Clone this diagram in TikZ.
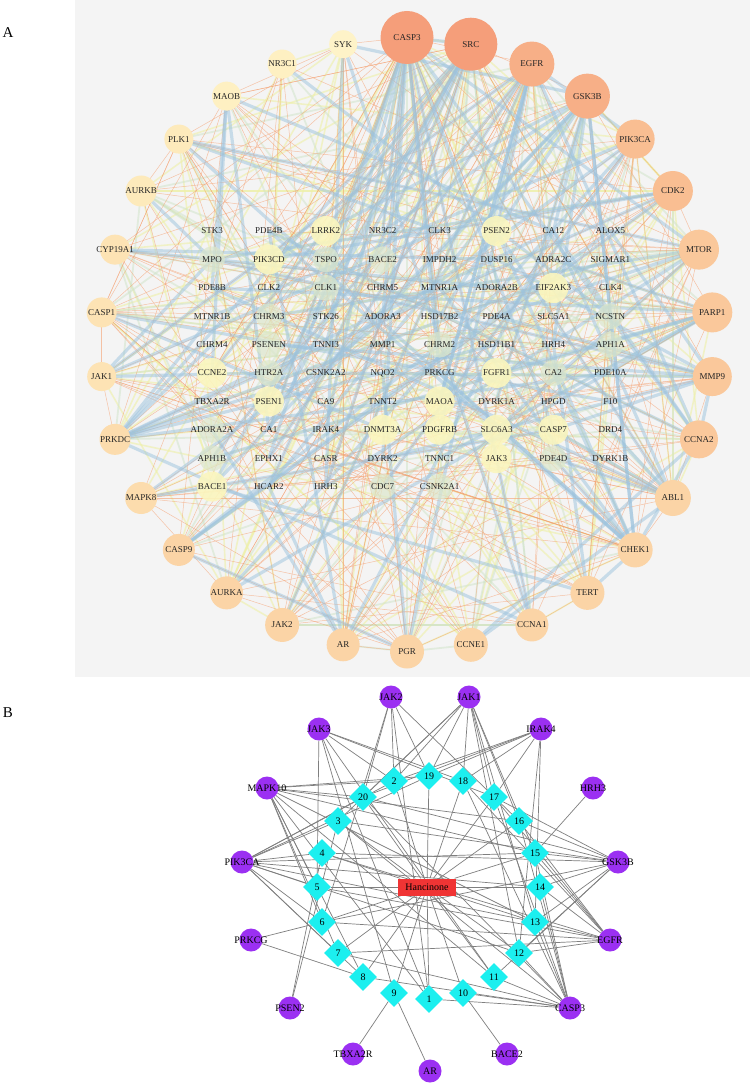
\documentclass[tikz,border=0pt]{standalone}
\usepackage{fontspec}
\setmainfont{Liberation Serif}
\usetikzlibrary{shapes.geometric}
\pgfdeclarelayer{bg}
\pgfdeclarelayer{edges}
\pgfsetlayers{bg,edges,main}
\definecolor{panelgrey}{HTML}{F4F4F4}
\definecolor{oa}{HTML}{F59E7A}
\definecolor{ob}{HTML}{F7AF87}
\definecolor{oc}{HTML}{F9BE92}
\definecolor{od}{HTML}{FAC89B}
\definecolor{oe}{HTML}{FBD4A6}
\definecolor{of}{HTML}{FCDCAD}
\definecolor{og}{HTML}{FDE3B4}
\definecolor{oh}{HTML}{FDEABB}
\definecolor{oi}{HTML}{FEF0C2}
\definecolor{oj}{HTML}{FEF3C8}
\definecolor{gyel}{HTML}{FBF6BE}
\definecolor{ggrn}{HTML}{DCE7CB}
\definecolor{eblue}{HTML}{9CC3DE}
\definecolor{eorange}{HTML}{F4A070}
\definecolor{eyellow}{HTML}{EEF0A8}
\definecolor{egreen}{HTML}{CFE3C8}
\definecolor{purp}{HTML}{9B30F2}
\definecolor{cyanD}{HTML}{1CEFEF}
\definecolor{herbred}{HTML}{F03434}
\definecolor{bedge}{HTML}{7F7F7F}
\begin{document}
\begin{tikzpicture}[x=1pt,y=-1pt,
  outer/.style={circle,inner sep=0pt,draw=none},
  lblA/.style={font=\fontsize{9}{10}\selectfont,text=black!85},
  gn/.style={circle,inner sep=0pt,minimum size=24pt,draw=none},
  gy/.style={circle,inner sep=0pt,minimum size=30pt,draw=none,fill=gyel,fill opacity=0.9},
  gg/.style={circle,inner sep=0pt,minimum size=26pt,draw=none,fill=ggrn,fill opacity=0.7},
  edB/.style={draw=eblue,line width=3.2pt,opacity=0.5},
  edO/.style={draw=eorange,line width=0.5pt,opacity=0.6},
  edY/.style={draw=eyellow,line width=1.6pt,opacity=0.6},
  edG/.style={draw=egreen,line width=1.8pt,opacity=0.5},
  tgt/.style={circle,fill=purp,minimum size=23pt,inner sep=0pt,draw=none},
  lblB/.style={font=\fontsize{10}{11}\selectfont,text=black},
  dia/.style={diamond,fill=cyanD,minimum width=28pt,minimum height=28pt,inner sep=0pt,draw=none,font=\fontsize{10}{11}\selectfont},
  herb/.style={rectangle,fill=herbred,minimum width=58pt,minimum height=17pt,inner sep=0pt,draw=none,font=\fontsize{10}{11}\selectfont},
  ge/.style={draw=bedge,line width=0.7pt},
  plabel/.style={font=\fontsize{15}{18}\selectfont}
]
\useasboundingbox (0,0) rectangle (750,1083);
\begin{pgfonlayer}{bg}
  \fill[white] (0,0) rectangle (750,1083);
  \fill[panelgrey] (75,0) rectangle (750,677);
\end{pgfonlayer}

\node[plabel] (labA) at (8,33) {A};
\node[plabel] (labB) at (8,713) {B};

% ---------- Panel A: outer ring ----------
\foreach \i/\lab/\d/\c in {0/CASP3/53/oa,1/SRC/53/oa,2/EGFR/45/ob,3/GSK3B/45/ob,4/PIK3CA/39/oc,5/CDK2/40/oc,6/MTOR/40/od,7/PARP1/40/od,8/MMP9/39/od,9/CCNA2/38/od,10/ABL1/36/oe,11/CHEK1/35/oe,12/TERT/34/oe,13/CCNA1/33/oe,14/CCNE1/34/oe,15/PGR/34/oe,16/AR/33/oe,17/JAK2/34/oe,18/AURKA/33/oe,19/CASP9/32/oe,20/MAPK8/32/of,21/PRKDC/31/of,22/JAK1/29/og,23/CASP1/30/og,24/CYP19A1/30/og,25/AURKB/31/oh,26/PLK1/29/oh,27/MAOB/29/oi,28/NR3C1/29/oi,29/SYK/28/oj} {
  \pgfmathsetmacro\ang{90-12*\i}
  \node[outer,minimum size=\d pt,fill=\c,label={[lblA]center:\lab}] (n\i) at ({407+307*cos(\ang)},{344.5-307*sin(\ang)}) {};
}

% ---------- Panel A: inner grid ----------
\foreach \k/\lab/\s in {0/STK3/gn,1/PDE4B/gn,2/LRRK2/gy,3/NR3C2/gn,4/CLK3/gn,5/PSEN2/gy,6/CA12/gn,7/ALOX5/gn,
  8/MPO/gg,9/PIK3CD/gy,10/TSPO/gg,11/BACE2/gg,12/IMPDH2/gn,13/DUSP16/gn,14/ADRA2C/gn,15/SIGMAR1/gn,
  16/PDE8B/gn,17/CLK2/gn,18/CLK1/gg,19/CHRM5/gn,20/MTNR1A/gn,21/ADORA2B/gn,22/EIF2AK3/gy,23/CLK4/gn,
  24/MTNR1B/gn,25/CHRM3/gg,26/STK26/gn,27/ADORA3/gn,28/HSD17B2/gn,29/PDE4A/gn,30/SLC5A1/gn,31/NCSTN/gg,
  32/CHRM4/gn,33/PSENEN/gg,34/TNNI3/gn,35/MMP1/gn,36/CHRM2/gg,37/HSD11B1/gn,38/HRH4/gn,39/APH1A/gg,
  40/CCNE2/gy,41/HTR2A/gg,42/CSNK2A2/gn,43/NQO2/gn,44/PRKCG/gn,45/FGFR1/gy,46/CA2/gg,47/PDE10A/gn,
  48/TBXA2R/gn,49/PSEN1/gy,50/CA9/gn,51/TNNT2/gn,52/MAOA/gy,53/DYRK1A/gn,54/HPGD/gn,55/F10/gn,
  56/ADORA2A/gg,57/CA1/gn,58/IRAK4/gn,59/DNMT3A/gy,60/PDGFRB/gy,61/SLC6A3/gy,62/CASP7/gy,63/DRD4/gn,
  64/APH1B/gg,65/EPHX1/gn,66/CASR/gn,67/DYRK2/gn,68/TNNC1/gn,69/JAK3/gy,70/PDE4D/gg,71/DYRK1B/gn,
  72/BACE1/gy,73/HCAR2/gn,74/HRH3/gn,75/CDC7/gg,76/CSNK2A1/gg} {
  \pgfmathtruncatemacro\col{mod(\k,8)}
  \pgfmathtruncatemacro\row{floor(\k/8)}
  \pgfmathtruncatemacro\nm{\k+30}
  \node[\s,label={[lblA]center:\lab}] (n\nm) at ({212+56.9*\col},{231+28.4*\row}) {};
}

% ---------- Panel A: edges ----------
\begin{pgfonlayer}{edges}
\pgfmathsetseed{2024}
\foreach \k in {1,...,150} {
  \pgfmathtruncatemacro\a{floor((rnd^1.6)*30)}
  \pgfmathtruncatemacro\b{floor(rnd*107)}
  \pgfmathtruncatemacro\b{(\b==\a) ? mod(\b+1,107) : \b}
  \draw[edY] (n\a.center) -- (n\b.center);
}
\foreach \k in {1,...,90} {
  \pgfmathtruncatemacro\a{floor((rnd^1.6)*30)}
  \pgfmathtruncatemacro\b{floor(rnd*107)}
  \pgfmathtruncatemacro\b{(\b==\a) ? mod(\b+1,107) : \b}
  \draw[edG] (n\a.center) -- (n\b.center);
}
\foreach \k in {1,...,300} {
  \pgfmathtruncatemacro\a{floor((rnd^1.6)*30)}
  \pgfmathtruncatemacro\b{floor(rnd*107)}
  \pgfmathtruncatemacro\b{(\b==\a) ? mod(\b+1,107) : \b}
  \draw[edO] (n\a.center) -- (n\b.center);
}
\foreach \k in {1,...,125} {
  \pgfmathtruncatemacro\a{floor((rnd^1.6)*30)}
  \pgfmathtruncatemacro\b{floor(rnd*107)}
  \pgfmathtruncatemacro\b{(\b==\a) ? mod(\b+1,107) : \b}
  \draw[edB] (n\a.center) -- (n\b.center);
}
\end{pgfonlayer}

% ---------- Panel B ----------
\node[herb] (han) at (427,887) {Hancinone};
\foreach \i/\x/\y in {1/429/999,2/394/781,3/338/821,4/322/853,5/317/887,6/322/922,7/338/953,8/363/977,9/394/993,10/463/993,11/494/977,12/519/953,13/535/922,14/540/887,15/535/853,16/519/821,17/494/797,18/463/781,19/429/776,20/363/797} {
  \node[dia] (d\i) at (\x,\y) {\i};
}
\foreach \nm/\lab/\x/\y in {bJAK2/JAK2/391/697,bJAK1/JAK1/469/697,bJAK3/JAK3/319/729,bIRAK4/IRAK4/541/729,bMAPK10/MAPK10/267/788,bHRH3/HRH3/593/788,bPIK3CA/PIK3CA/242/862,bGSK3B/GSK3B/618/862,bPRKCG/PRKCG/251/940,bEGFR/EGFR/610/940,bPSEN2/PSEN2/290/1008,bCASP3/CASP3/570/1008,bTBXA2R/TBXA2R/353/1054,bBACE2/BACE2/507/1054,bAR/AR/430/1071} {
  \node[tgt,label={[lblB]center:\lab}] (\nm) at (\x,\y) {};
}
\begin{pgfonlayer}{edges}
\foreach \i in {1,...,20} { \draw[ge] (han) -- (d\i); }
\foreach \t/\ds in {bJAK2/{20,6,2,19,16,1},bJAK1/{3,20,2,19,18,17,16,15,13,12},bJAK3/{5,2,18,17,11,1,9},bIRAK4/{2,20,19,18,17,12,13},bMAPK10/{2,20,19,16,15,5,6,7,8,1,11,13},bPIK3CA/{3,20,2,19,4,15,14,5,6,7,8,12,13},bGSK3B/{20,3,4,16,17,15,14,13,12,11,6},bEGFR/{18,17,16,15,14,13,12,6,7,5,4},bCASP3/{18,17,16,15,14,13,12,11,10,1,8,7,3,20},bHRH3/{15},bPRKCG/{6,8},bPSEN2/{4,3},bTBXA2R/{9},bAR/{9},bBACE2/{10}} {
  \foreach \d in \ds { \draw[ge] (\t) -- (d\d); }
}
\end{pgfonlayer}
\end{tikzpicture}
\end{document}
